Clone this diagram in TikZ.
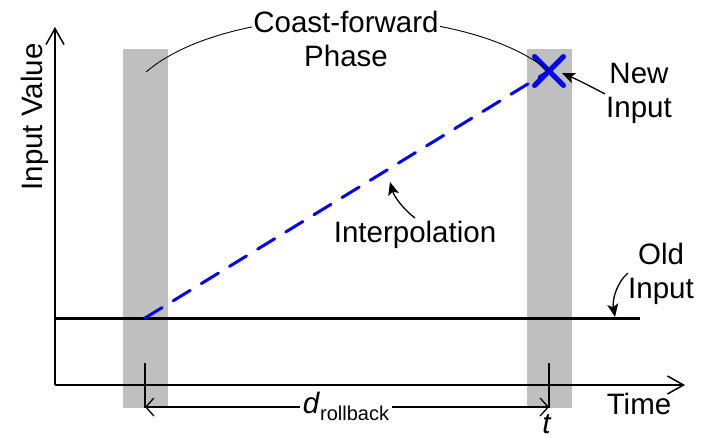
\documentclass[tikz,border=0pt]{standalone}
\usepackage{fontspec}
\setmainfont{Liberation Sans}
\usetikzlibrary{arrows.meta,shapes.misc}
\definecolor{bargray}{RGB}{191,191,191}
\definecolor{lineblue}{RGB}{0,0,255}
\begin{document}
\begin{tikzpicture}[x=1pt,y=-1pt,
  lbl/.style={font=\fontsize{29.5}{34}\selectfont, inner sep=0pt, align=center},
  slbl/.style={font=\fontsize{29.5}{34}\selectfont, inner sep=0pt},
  axisline/.style={line width=1.5pt, -{Straight Barb[length=16pt,width=18pt,line width=1.5pt]}},
  dimline/.style={line width=1.3pt, {Straight Barb[length=8pt,width=18pt,line width=1.3pt]}-{Straight Barb[length=8pt,width=18pt,line width=1.3pt]}},
  tick/.style={line width=1.3pt},
  annot/.style={line width=1.3pt, -{Stealth[length=13pt,width=11pt,inset=3pt]}},
  interp/.style={lineblue, line width=3pt, line cap=round, dash pattern=on 20pt off 13pt},
  oldline/.style={line width=3pt},
  thincurve/.style={line width=0.9pt}
]
\useasboundingbox (0,0) rectangle (702,437);
% grey bars
\fill[bargray] (123,49) rectangle (168,408);
\fill[bargray] (527,49) rectangle (572,408);
% axes
\coordinate (O) at (55,385);
\coordinate (ytip) at (55,27);
\coordinate (xtip) at (685,385);
\draw[axisline] (O) -- (ytip);
\draw[axisline] (O) -- (xtip);
% old input line
\coordinate (oldL) at (55,318);
\coordinate (oldR) at (640,318);
\draw[oldline] (oldL) -- (oldR);
% interpolation
\coordinate (A) at (145,318);
\node[cross out, draw=lineblue, line width=5pt, line cap=round, minimum size=24pt, inner sep=0pt] (X) at (549,71) {};
\draw[interp] (A) -- (X.center);
% coast-forward curve
\coordinate (cfL) at (146,72);
\draw[thincurve] (cfL) .. controls (230,0) and (462,0) .. (X.center);
\node[lbl, fill=white, inner xsep=1pt] (cf) at (346,39) {Coast-forward\\Phase};
% labels
\node[slbl, rotate=90] (yl) at (35,117) {Input Value};
\node[slbl] (time) at (639,404) {Time};
\node[lbl] (newin) at (639,93) {New\\Input};
\node[slbl] (interpl) at (415,235) {Interpolation};
\node[lbl] (oldin) at (661,274) {Old\\Input};
% annotation arrows
\coordinate (nT) at (605,94);
\coordinate (nH) at (562,73);
\draw[annot] (nT) .. controls (590,86) and (576,79) .. (nH);
\coordinate (iT) at (415,218);
\coordinate (iH) at (390,182);
\draw[annot] (iT) .. controls (402,208) and (394,196) .. (iH);
\coordinate (oT) at (628,273);
\coordinate (oH) at (615,317);
\draw[annot] (oT) .. controls (617,282) and (612,300) .. (oH);
% rollback dimension
\coordinate (tkL1) at (145,363);
\coordinate (tkL2) at (145,408);
\coordinate (tkR1) at (549,363);
\coordinate (tkR2) at (549,408);
\draw[tick] (tkL1) -- (tkL2);
\draw[tick] (tkR1) -- (tkR2);
\coordinate (dL) at (145,407);
\coordinate (dR) at (549,407);
\draw[dimline] (dL) -- (dR);
\node[slbl, fill=white, inner xsep=3pt, inner ysep=1pt] (dlab) at (346,406) {\textit{d}\raisebox{-7pt}{\fontsize{20}{20}\selectfont rollback}};
\node[slbl] (tlab) at (547,424) {\textit{t}};
\end{tikzpicture}
\end{document}
